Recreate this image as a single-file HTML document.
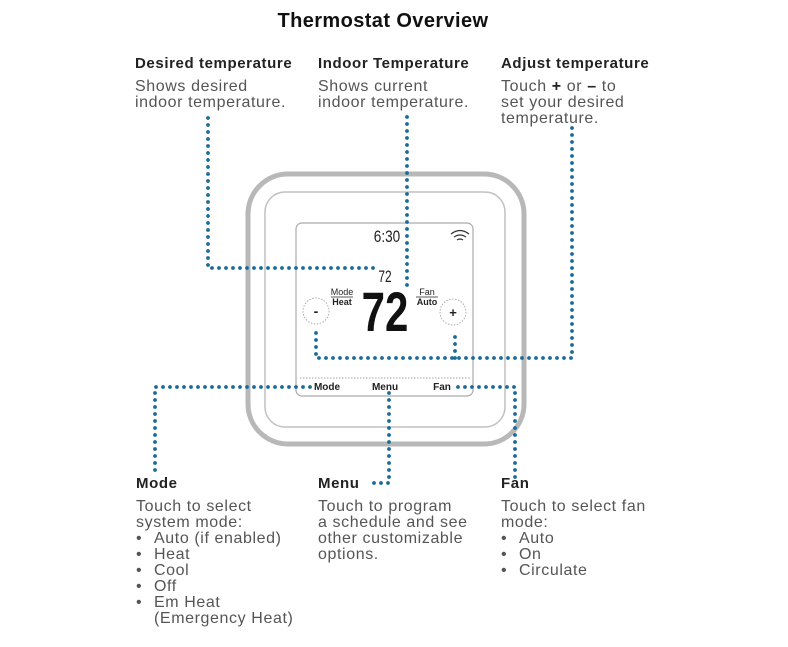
<!DOCTYPE html>
<html><head><meta charset="utf-8"><style>
body{margin:0;background:#fff;width:788px;height:647px;overflow:hidden;font-family:"Liberation Sans",sans-serif;}
.t{position:absolute;font-size:16px;line-height:16px;color:#555;letter-spacing:0.6px;}
.h{font-weight:bold;color:#222;font-size:15px;margin-bottom:7px;display:block;letter-spacing:0.6px}
.b{display:inline-block;width:18px;letter-spacing:0}
</style></head><body>
<div style="position:absolute;left:0;width:766px;top:10px;text-align:center;font-weight:bold;font-size:20px;letter-spacing:0.4px;color:#111">Thermostat Overview</div>
<svg width="788" height="647" style="position:absolute;left:0;top:0">
<rect x="248" y="174" width="276" height="270" rx="40" fill="none" stroke="#b8b8b8" stroke-width="5"/>
<rect x="265" y="192" width="240" height="235" rx="20" fill="none" stroke="#c0c0c0" stroke-width="1.5"/>
<rect x="296" y="223" width="177" height="173" rx="6" fill="none" stroke="#aaa" stroke-width="1.2"/>
<line x1="300" y1="378" x2="470" y2="378" stroke="#888" stroke-width="0.8" stroke-dasharray="1.5 1.5"/>
<circle cx="316" cy="311" r="13" fill="none" stroke="#999" stroke-width="0.8" stroke-dasharray="1.5 1.5"/>
<circle cx="453" cy="312" r="13" fill="none" stroke="#999" stroke-width="0.8" stroke-dasharray="1.5 1.5"/>
<text x="316" y="316" font-size="14" text-anchor="middle" font-weight="bold" fill="#222">-</text>
<text x="453" y="317" font-size="13" text-anchor="middle" font-weight="bold" fill="#222">+</text>
<text x="387" y="242" font-size="17" text-anchor="middle" fill="#222" transform="translate(387 0) scale(0.8 1) translate(-387 0)">6:30</text>
<path d="M451 234 q9 -7 18 0 M454 237 q6 -4 12 0 M457 240 q3 -2 6 0" fill="none" stroke="#333" stroke-width="1.3"/>
<text x="385" y="282" font-size="17" text-anchor="middle" fill="#222" transform="translate(385 0) scale(0.7 1) translate(-385 0)">72</text>
<text x="385" y="331" font-size="56" font-weight="bold" text-anchor="middle" fill="#111" transform="translate(385 0) scale(0.75 1) translate(-385 0)">72</text>
<text x="342" y="295" font-size="9" text-anchor="middle" fill="#222">Mode</text>
<text x="342" y="305" font-size="9" font-weight="bold" text-anchor="middle" fill="#222">Heat</text>
<text x="427" y="295" font-size="9" text-anchor="middle" fill="#222">Fan</text>
<line x1="416" y1="297" x2="438" y2="297" stroke="#222" stroke-width="0.8"/>
<text x="427" y="305" font-size="9" font-weight="bold" text-anchor="middle" fill="#222">Auto</text>
<line x1="331" y1="297" x2="353" y2="297" stroke="#222" stroke-width="0.8"/>
<text x="327" y="390" font-size="10" font-weight="bold" text-anchor="middle" fill="#222">Mode</text>
<text x="385" y="390" font-size="10" font-weight="bold" text-anchor="middle" fill="#222">Menu</text>
<text x="442" y="390" font-size="10" font-weight="bold" text-anchor="middle" fill="#222">Fan</text>
<g fill="none" stroke="#1a6b96" stroke-width="3.8" stroke-linecap="round" stroke-dasharray="0 7">
<path d="M208 118 V268 H375"/>
<path d="M407 117 V286"/>
<path d="M572 128 V358 H316 V326"/>
<path d="M455 358 V332"/>
<path d="M310 387 H155 V472"/>
<path d="M458 387 H515 V478"/>
<path d="M389 393 V483 H373"/>
</g>
</svg>
<div class="t" style="left:135px;top:56px"><span class="h">Desired temperature</span>Shows desired<br>indoor temperature.</div>
<div class="t" style="left:318px;top:56px"><span class="h">Indoor Temperature</span>Shows current<br>indoor temperature.</div>
<div class="t" style="left:501px;top:56px"><span class="h">Adjust temperature</span>Touch <b style="color:#222">+</b> or <b style="color:#222">–</b> to<br>set your desired<br>temperature.</div>
<div class="t" style="left:136px;top:476px"><span class="h">Mode</span>Touch to select<br>system mode:<br><span class="b">•</span>Auto (if enabled)<br><span class="b">•</span>Heat<br><span class="b">•</span>Cool<br><span class="b">•</span>Off<br><span class="b">•</span>Em Heat<br><span class="b"></span>(Emergency Heat)</div>
<div class="t" style="left:318px;top:476px"><span class="h">Menu</span>Touch to program<br>a schedule and see<br>other customizable<br>options.</div>
<div class="t" style="left:501px;top:476px"><span class="h">Fan</span>Touch to select fan<br>mode:<br><span class="b">•</span>Auto<br><span class="b">•</span>On<br><span class="b">•</span>Circulate</div>
</body></html>
